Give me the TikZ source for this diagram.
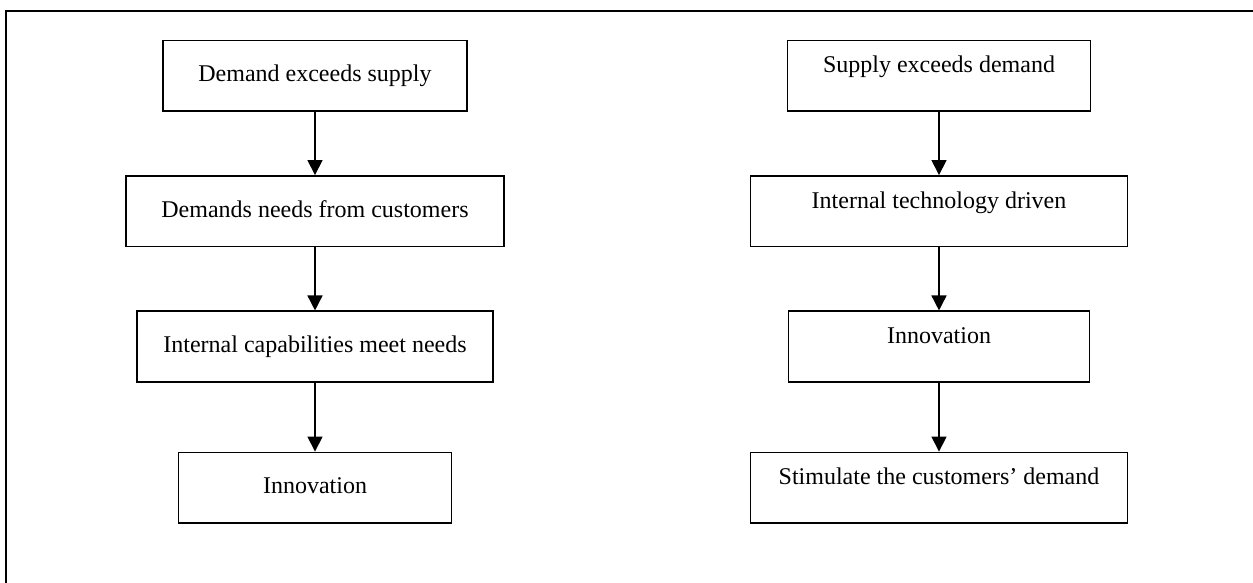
\documentclass[tikz,border=0pt]{standalone}
\usepackage{fontspec}
\setmainfont{Liberation Serif}
\usetikzlibrary{arrows.meta, positioning}

\begin{document}
\begin{tikzpicture}[
						x=0.5pt, y=-0.5pt,
						node distance={31.65pt},
						box/.style = {draw, rectangle, line width=0.8pt, minimum height=35.25pt, inner sep=0pt, font=\fontsize{12}{14.4}\selectfont, text height=8.5pt, text depth=2.5pt},
						topbox/.style = {box, text depth=11.5pt},
						arr/.style = {-{Triangle[width=7.5pt, length=7.5pt]}, line width=0.8pt}
					]
\useasboundingbox (0,0) rectangle (1253,583);
\draw[line width=1pt] (6,583) -- (6,10.7) -- (1253,10.7);

% demand side
\node[box, minimum width=152.25pt] (d1) at (315,75.7) {Demand exceeds supply};
\node[box, minimum width=189pt] (d2) [below=of d1] {Demands needs from customers};
\node[box, minimum width=178.25pt] (d3) [below=of d2] {Internal capabilities meet needs};
\node[box, minimum width=136.5pt] (d4) [below=34.5pt of d3] {Innovation};

% supply side
\node[topbox, minimum width=151.5pt] (s1) at (939,75.7) {Supply exceeds demand};
\node[topbox, minimum width=188.5pt] (s2) [below=of s1] {Internal technology driven};
\node[topbox, minimum width=150.5pt] (s3) [below=of s2] {Innovation};
\node[topbox, minimum width=188.5pt] (s4) [below=34.5pt of s3] {Stimulate the customers’ demand};

\draw[arr] (d1) -- (d2);
\draw[arr] (d2) -- (d3);
\draw[arr] (d3) -- (d4);
\draw[arr] (s1) -- (s2);
\draw[arr] (s2) -- (s3);
\draw[arr] (s3) -- (s4);
\end{tikzpicture}
\end{document}
